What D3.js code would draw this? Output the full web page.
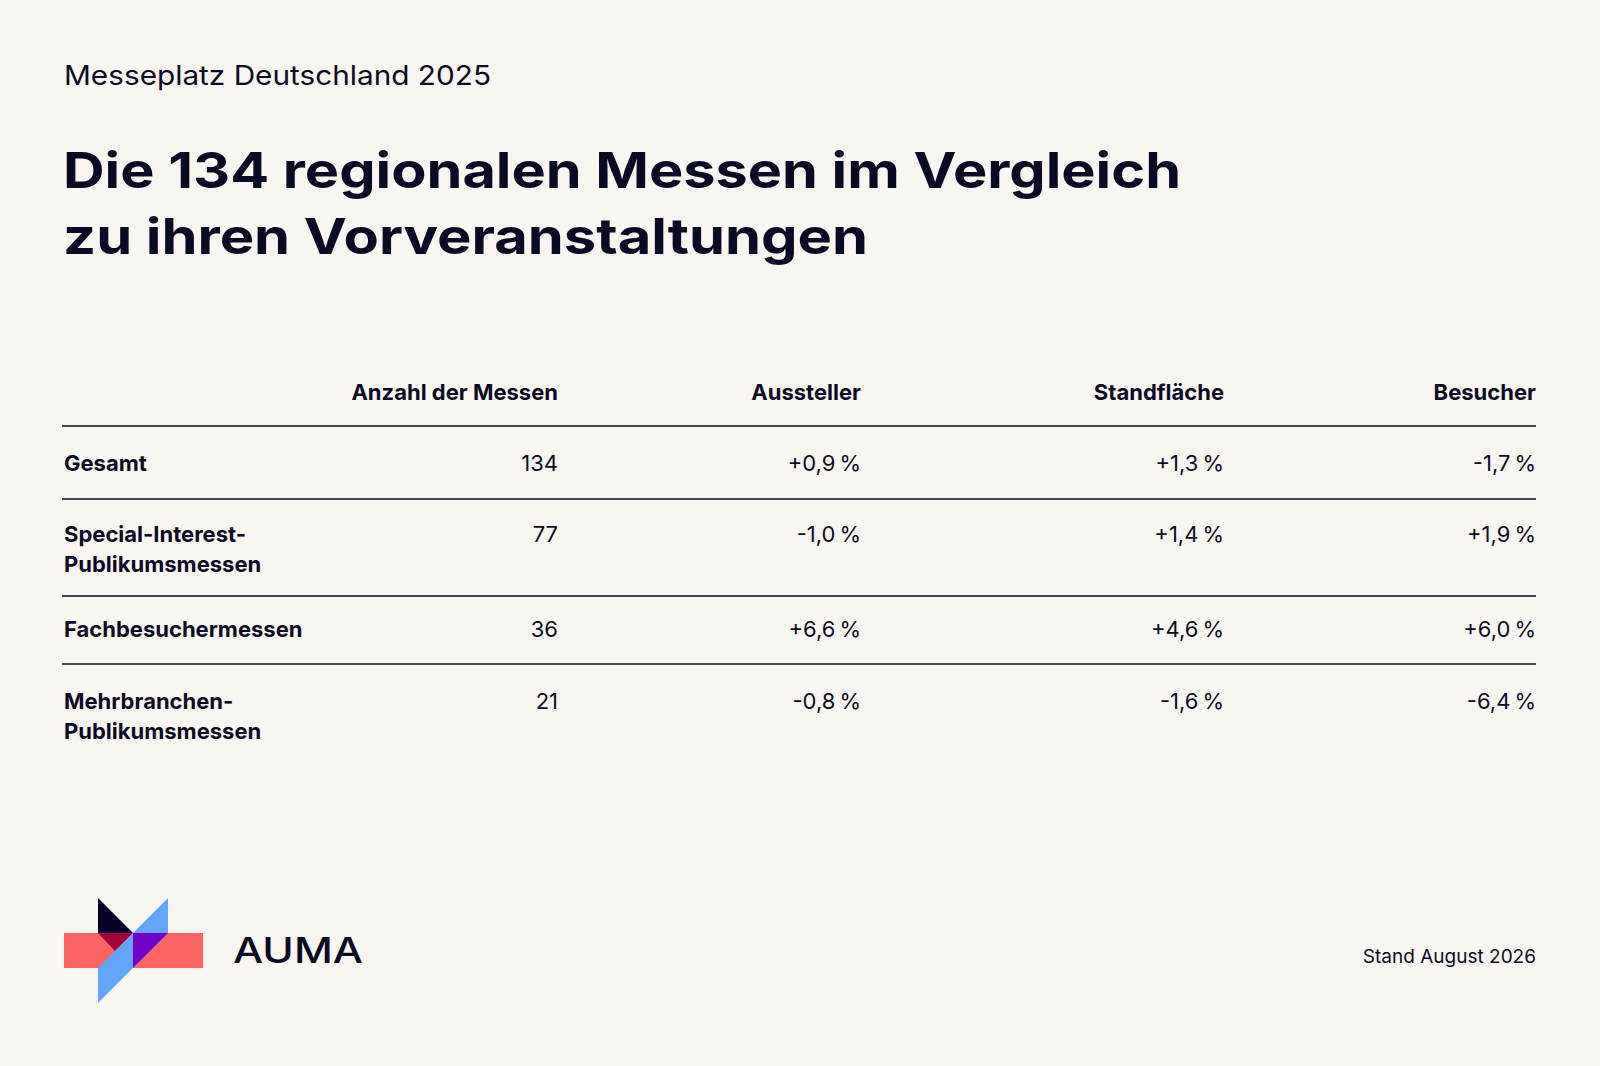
<!DOCTYPE html>
<html><head><meta charset="utf-8">
<script src="https://cdn.jsdelivr.net/npm/d3@7"></script>
<style>body{margin:0;background:#f9f6f2;font-family:Inter,sans-serif;}</style>
</head><body><div id="chart"></div>
<script>
const width = 1600, height = 1066;
const columns = ["Anzahl der Messen", "Aussteller", "Standfläche", "Besucher"];
const rowLabels = [["Gesamt"], ["Special-Interest-", "Publikumsmessen"], ["Fachbesuchermessen"], ["Mehrbranchen-", "Publikumsmessen"]];
const anzahl = ["134", "77", "36", "21"];
const aussteller = ["+0,9\u202F%", "-1,0\u202F%", "+6,6\u202F%", "-0,8\u202F%"];
const standflaeche = ["+1,3\u202F%", "+1,4\u202F%", "+4,6\u202F%", "-1,6\u202F%"];
const besucher = ["-1,7\u202F%", "+1,9\u202F%", "+6,0\u202F%", "-6,4\u202F%"];

const ink = "#0b0a24";
const svg = d3.select("#chart").append("svg").attr("width", width).attr("height", height)
    .style("background", "#f9f6f2");

svg.append("text").attr("x", 64).attr("y", 85).attr("font-size", 27).attr("fill", ink)
    .attr("textLength", 427).attr("lengthAdjust", "spacingAndGlyphs")
    .text("Messeplatz Deutschland 2025");
svg.append("text").attr("x", 63).attr("y", 188).attr("font-size", 50).attr("font-weight", 700)
    .attr("fill", ink).attr("textLength", 1118).attr("lengthAdjust", "spacingAndGlyphs")
    .text("Die 134 regionalen Messen im Vergleich");
svg.append("text").attr("x", 63).attr("y", 254).attr("font-size", 50).attr("font-weight", 700)
    .attr("fill", ink).attr("textLength", 805).attr("lengthAdjust", "spacingAndGlyphs")
    .text("zu ihren Vorveranstaltungen");

// column right edges
const colX = [558, 861, 1224, 1536];
const rowY = [471, 542, 637, 709];
const lineY = [426, 499, 596, 664];
const cols = [anzahl, aussteller, standflaeche, besucher];

svg.selectAll(".hdr").data(columns).enter().append("text")
    .attr("x", (d, i) => colX[i]).attr("y", 400).attr("text-anchor", "end")
    .attr("font-size", 22).attr("font-weight", 700).attr("fill", ink).text(d => d);

svg.selectAll(".rule").data(lineY).enter().append("line")
    .attr("x1", 62).attr("x2", 1536).attr("y1", d => d).attr("y2", d => d)
    .attr("stroke", ink).attr("stroke-width", 1.6);

rowLabels.forEach((lines, r) => {
    lines.forEach((t, k) => {
        svg.append("text").attr("x", 64).attr("y", rowY[r] + k * 30)
            .attr("font-size", 22).attr("font-weight", 700).attr("fill", ink).text(t);
    });
    cols.forEach((c, j) => {
        svg.append("text").attr("x", colX[j]).attr("y", rowY[r]).attr("text-anchor", "end")
            .attr("font-size", 22).attr("fill", ink).text(c[r]);
    });
});

// logo
const logo = svg.append("g");
logo.append("rect").attr("x", 64).attr("y", 933).attr("width", 139).attr("height", 35).attr("fill", "#ff6464");
logo.append("path").attr("d", "M98,898 L133,933 L98,933Z").attr("fill", "#06002a");
logo.append("path").attr("d", "M98,933 L133,933 L115,951Z").attr("fill", "#a5003a");
logo.append("path").attr("d", "M98,968 L168,898 L168,933 L98,1003Z").attr("fill", "#61a5ff");
logo.append("path").attr("d", "M133,933 L168,933 L133,968Z").attr("fill", "#6e00c8");
svg.append("text").attr("x", 233).attr("y", 963).attr("font-size", 36).attr("font-weight", 500)
    .attr("fill", ink).attr("textLength", 130).attr("lengthAdjust", "spacingAndGlyphs").text("AUMA");

svg.append("text").attr("x", 1536).attr("y", 963).attr("text-anchor", "end").attr("font-size", 19)
    .attr("fill", ink).text("Stand August 2026");
</script></body></html>
